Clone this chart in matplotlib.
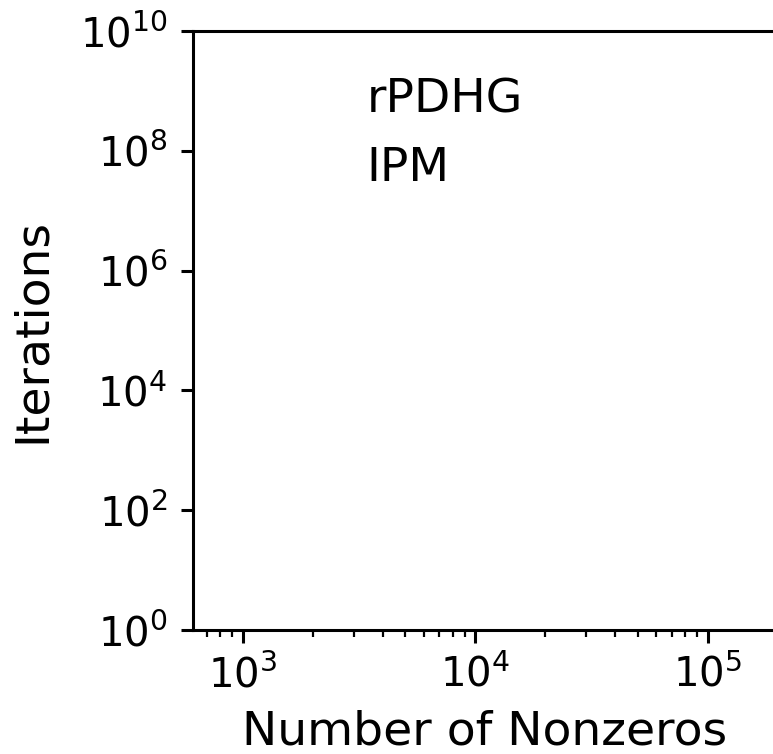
import matplotlib
matplotlib.use("Agg")
import matplotlib.pyplot as plt

# Data (the reference chart shows no plotted marks)
series_names = ["rPDHG", "IPM"]
rpdhg_nnz = []
rpdhg_iters = []
ipm_nnz = []
ipm_iters = []
x_limits = (607, 10**5.3)
y_limits = (1, 1e10)
x_label = "Number of Nonzeros"
y_label = "Iterations"

fig = plt.figure(figsize=(7.73, 7.54), dpi=100)
ax = fig.add_axes([192.5 / 773, 1 - 630 / 754, (777.5 - 192.5) / 773, (630 - 31) / 754])

l1, = ax.plot(rpdhg_nnz, rpdhg_iters, label=series_names[0])
l2, = ax.plot(ipm_nnz, ipm_iters, label=series_names[1])

ax.set_xscale("log")
ax.set_yscale("log")
ax.set_xlim(*x_limits)
ax.set_ylim(*y_limits)
ax.set_yticks([1e0, 1e2, 1e4, 1e6, 1e8, 1e10])
ax.yaxis.set_minor_locator(matplotlib.ticker.NullLocator())

for s in ax.spines.values():
    s.set_linewidth(2.2)
ax.tick_params(which="major", length=9, width=2.2, labelsize=29, pad=9)
ax.tick_params(which="minor", length=5, width=1.6)

ax.set_xlabel(x_label, fontsize=34, labelpad=10)
ax.set_ylabel(y_label, fontsize=34, labelpad=18)

leg = ax.legend(handles=[l1, l2], loc="upper left", bbox_to_anchor=(324 / 773, 1 - 35 / 754),
                bbox_transform=fig.transFigure, frameon=False, fontsize=34,
                handlelength=0, handletextpad=0, labelspacing=0.5)
for h in leg.legend_handles:
    h.set_visible(False)

fig.savefig("out.png", dpi=100)
